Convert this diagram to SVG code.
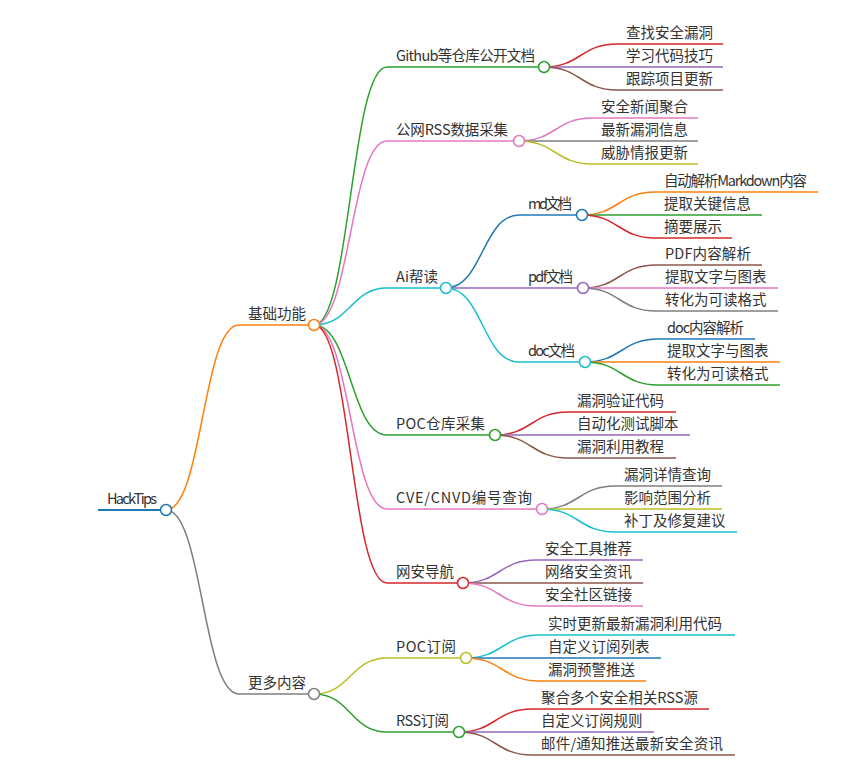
<svg xmlns="http://www.w3.org/2000/svg" width="861" height="770" viewBox="0 0 861 770">
<style>
text{font-family:"Noto Sans CJK SC","Noto Sans",sans-serif;font-size:14.5px;fill:#333}
path,line{fill:none;stroke-width:1.5}
circle{fill:#fff;stroke-width:1.5}
.blue{stroke:#1f77b4}.orange{stroke:#ff7f0e}.green{stroke:#2ca02c}.red{stroke:#d62728}.purple{stroke:#9467bd}
.brown{stroke:#8c564b}.pink{stroke:#e377c2}.gray{stroke:#7f7f7f}.olive{stroke:#bcbd22}.cyan{stroke:#17becf}
</style>
<rect width="861" height="770" fill="#fff"/>
<g id="connectors">
<path class="orange" d="M166 510C202.5 510 202.5 325 239 325"/>
<path class="gray" d="M166 510C202.5 510 202.5 694 239 694"/>
<path class="green" d="M314 325C350.5 325 350.5 67 387 67"/>
<path class="pink" d="M314 325C350.5 325 350.5 141 387 141"/>
<path class="cyan" d="M314 325C350.5 325 350.5 288 387 288"/>
<path class="green" d="M314 325C350.5 325 350.5 435 387 435"/>
<path class="pink" d="M314 325C350.5 325 350.5 509 387 509"/>
<path class="red" d="M314 325C350.5 325 350.5 583 387 583"/>
<path class="olive" d="M314 694C350.5 694 350.5 658 387 658"/>
<path class="green" d="M314 694C350.5 694 350.5 732 387 732"/>
<path class="red" d="M544 67C580.5 67 580.5 44 617 44"/>
<path class="purple" d="M544 67L617 67"/>
<path class="brown" d="M544 67C580.5 67 580.5 90 617 90"/>
<path class="pink" d="M519 141C555.5 141 555.5 118 592 118"/>
<path class="gray" d="M519 141L592 141"/>
<path class="olive" d="M519 141C555.5 141 555.5 164 592 164"/>
<path class="blue" d="M446 288C482.5 288 482.5 215 519 215"/>
<path class="purple" d="M446 288L519 288"/>
<path class="cyan" d="M446 288C482.5 288 482.5 362 519 362"/>
<path class="orange" d="M582 215C618.5 215 618.5 192 655 192"/>
<path class="green" d="M582 215L655 215"/>
<path class="red" d="M582 215C618.5 215 618.5 238 655 238"/>
<path class="brown" d="M583 288C619.5 288 619.5 265 656 265"/>
<path class="pink" d="M583 288L656 288"/>
<path class="gray" d="M583 288C619.5 288 619.5 311 656 311"/>
<path class="blue" d="M585 362C621.5 362 621.5 339 658 339"/>
<path class="orange" d="M585 362L658 362"/>
<path class="green" d="M585 362C621.5 362 621.5 385 658 385"/>
<path class="red" d="M495 435C531.5 435 531.5 412 568 412"/>
<path class="purple" d="M495 435L568 435"/>
<path class="brown" d="M495 435C531.5 435 531.5 458 568 458"/>
<path class="gray" d="M542 509C578.5 509 578.5 486 615 486"/>
<path class="olive" d="M542 509L615 509"/>
<path class="cyan" d="M542 509C578.5 509 578.5 532 615 532"/>
<path class="purple" d="M463 583C499.5 583 499.5 560 536 560"/>
<path class="brown" d="M463 583L536 583"/>
<path class="pink" d="M463 583C499.5 583 499.5 606 536 606"/>
<path class="cyan" d="M466 658C502.5 658 502.5 635 539 635"/>
<path class="blue" d="M466 658L539 658"/>
<path class="orange" d="M466 658C502.5 658 502.5 681 539 681"/>
<path class="red" d="M459 732C495.5 732 495.5 709 532 709"/>
<path class="purple" d="M459 732L532 732"/>
<path class="brown" d="M459 732C495.5 732 495.5 755 532 755"/>
</g>

<g id="n-root"><line class="blue" x1="98" y1="510" x2="166" y2="510" style="stroke-width:2"/><text x="107" y="504" textLength="50">HackTips</text><circle class="blue" cx="166" cy="510" r="5.5"/></g>

<g id="n-jichu"><line class="orange" x1="239" y1="325" x2="314" y2="325"/><text x="248" y="319">基础功能</text><circle class="orange" cx="314" cy="325" r="5.5"/></g>
<g id="n-gengduo"><line class="gray" x1="239" y1="694" x2="314" y2="694"/><text x="248" y="688">更多内容</text><circle class="gray" cx="314" cy="694" r="5.5"/></g>

<g id="n-github"><line class="green" x1="387" y1="67" x2="544" y2="67"/><text x="396" y="61" textLength="139">Github等仓库公开文档</text><circle class="green" cx="544" cy="67" r="5.5"/></g>
<g id="n-rss"><line class="pink" x1="387" y1="141" x2="519" y2="141"/><text x="396" y="135" textLength="112">公网RSS数据采集</text><circle class="pink" cx="519" cy="141" r="5.5"/></g>
<g id="n-ai"><line class="cyan" x1="387" y1="288" x2="446" y2="288"/><text x="396" y="282" textLength="42">Ai帮读</text><circle class="cyan" cx="446" cy="288" r="5.5"/></g>
<g id="n-poccangku"><line class="green" x1="387" y1="435" x2="495" y2="435"/><text x="396" y="429" textLength="89">POC仓库采集</text><circle class="green" cx="495" cy="435" r="5.5"/></g>
<g id="n-cve"><line class="pink" x1="387" y1="509" x2="542" y2="509"/><text x="396" y="503" textLength="136">CVE/CNVD编号查询</text><circle class="pink" cx="542" cy="509" r="5.5"/></g>
<g id="n-wangan"><line class="red" x1="387" y1="583" x2="463" y2="583"/><text x="396" y="577">网安导航</text><circle class="red" cx="463" cy="583" r="5.5"/></g>
<g id="n-pocdingyue"><line class="olive" x1="387" y1="658" x2="466" y2="658"/><text x="396" y="652" textLength="60">POC订阅</text><circle class="olive" cx="466" cy="658" r="5.5"/></g>
<g id="n-rssdingyue"><line class="green" x1="387" y1="732" x2="459" y2="732"/><text x="396" y="726" textLength="53">RSS订阅</text><circle class="green" cx="459" cy="732" r="5.5"/></g>

<g id="n-md"><line class="blue" x1="519" y1="215" x2="582" y2="215"/><text x="528" y="209" textLength="44">md文档</text><circle class="blue" cx="582" cy="215" r="5.5"/></g>
<g id="n-pdf"><line class="purple" x1="519" y1="288" x2="583" y2="288"/><text x="528" y="282" textLength="45">pdf文档</text><circle class="purple" cx="583" cy="288" r="5.5"/></g>
<g id="n-doc"><line class="cyan" x1="519" y1="362" x2="585" y2="362"/><text x="528" y="356" textLength="47">doc文档</text><circle class="cyan" cx="585" cy="362" r="5.5"/></g>

<g id="n-gh1"><line class="red" x1="617" y1="44" x2="723" y2="44"/><text x="626" y="38">查找安全漏洞</text></g>
<g id="n-gh2"><line class="purple" x1="617" y1="67" x2="723" y2="67"/><text x="626" y="61">学习代码技巧</text></g>
<g id="n-gh3"><line class="brown" x1="617" y1="90" x2="723" y2="90"/><text x="626" y="84">跟踪项目更新</text></g>

<g id="n-rss1"><line class="pink" x1="592" y1="118" x2="698" y2="118"/><text x="601" y="112">安全新闻聚合</text></g>
<g id="n-rss2"><line class="gray" x1="592" y1="141" x2="698" y2="141"/><text x="601" y="135">最新漏洞信息</text></g>
<g id="n-rss3"><line class="olive" x1="592" y1="164" x2="698" y2="164"/><text x="601" y="158">威胁情报更新</text></g>

<g id="n-md1"><line class="orange" x1="655" y1="192" x2="818" y2="192"/><text x="664" y="186" textLength="143">自动解析Markdown内容</text></g>
<g id="n-md2"><line class="green" x1="655" y1="215" x2="762" y2="215"/><text x="664" y="209">提取关键信息</text></g>
<g id="n-md3"><line class="red" x1="655" y1="238" x2="732" y2="238"/><text x="664" y="232">摘要展示</text></g>

<g id="n-pdf1"><line class="brown" x1="656" y1="265" x2="762" y2="265"/><text x="665" y="259" textLength="86">PDF内容解析</text></g>
<g id="n-pdf2"><line class="pink" x1="656" y1="288" x2="778" y2="288"/><text x="665" y="282">提取文字与图表</text></g>
<g id="n-pdf3"><line class="gray" x1="656" y1="311" x2="778" y2="311"/><text x="665" y="305">转化为可读格式</text></g>

<g id="n-doc1"><line class="blue" x1="658" y1="339" x2="755" y2="339"/><text x="667" y="333" textLength="77">doc内容解析</text></g>
<g id="n-doc2"><line class="orange" x1="658" y1="362" x2="780" y2="362"/><text x="667" y="356">提取文字与图表</text></g>
<g id="n-doc3"><line class="green" x1="658" y1="385" x2="780" y2="385"/><text x="667" y="379">转化为可读格式</text></g>

<g id="n-poc1"><line class="red" x1="568" y1="412" x2="676" y2="412"/><text x="577" y="406">漏洞验证代码</text></g>
<g id="n-poc2"><line class="purple" x1="568" y1="435" x2="690" y2="435"/><text x="577" y="429">自动化测试脚本</text></g>
<g id="n-poc3"><line class="brown" x1="568" y1="458" x2="676" y2="458"/><text x="577" y="452">漏洞利用教程</text></g>

<g id="n-cve1"><line class="gray" x1="615" y1="486" x2="722" y2="486"/><text x="624" y="480">漏洞详情查询</text></g>
<g id="n-cve2"><line class="olive" x1="615" y1="509" x2="722" y2="509"/><text x="624" y="503">影响范围分析</text></g>
<g id="n-cve3"><line class="cyan" x1="615" y1="532" x2="737" y2="532"/><text x="624" y="526">补丁及修复建议</text></g>

<g id="n-wa1"><line class="purple" x1="536" y1="560" x2="643" y2="560"/><text x="545" y="554">安全工具推荐</text></g>
<g id="n-wa2"><line class="brown" x1="536" y1="583" x2="643" y2="583"/><text x="545" y="577">网络安全资讯</text></g>
<g id="n-wa3"><line class="pink" x1="536" y1="606" x2="643" y2="606"/><text x="545" y="600">安全社区链接</text></g>

<g id="n-pd1"><line class="cyan" x1="539" y1="635" x2="735" y2="635"/><text x="548" y="629">实时更新最新漏洞利用代码</text></g>
<g id="n-pd2"><line class="blue" x1="539" y1="658" x2="661" y2="658"/><text x="548" y="652">自定义订阅列表</text></g>
<g id="n-pd3"><line class="orange" x1="539" y1="681" x2="646" y2="681"/><text x="548" y="675">漏洞预警推送</text></g>

<g id="n-rd1"><line class="red" x1="532" y1="709" x2="709" y2="709"/><text x="541" y="703" textLength="157">聚合多个安全相关RSS源</text></g>
<g id="n-rd2"><line class="purple" x1="532" y1="732" x2="654" y2="732"/><text x="541" y="726">自定义订阅规则</text></g>
<g id="n-rd3"><line class="brown" x1="532" y1="755" x2="735" y2="755"/><text x="541" y="749" textLength="182">邮件/通知推送最新安全资讯</text></g>
</svg>
